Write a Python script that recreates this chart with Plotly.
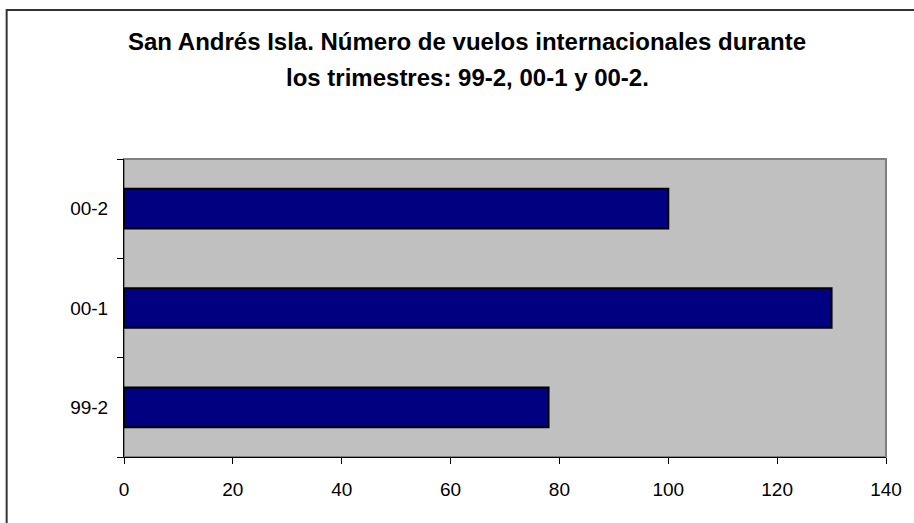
import plotly.graph_objects as go

trimestres = ["99-2", "00-1", "00-2"]
vuelos = [78, 130, 100]

titulo_1 = "San Andrés Isla. Número de vuelos internacionales durante"
titulo_2 = "los trimestres: 99-2, 00-1 y 00-2."

fig = go.Figure()
fig.add_trace(go.Bar(
    x=vuelos, y=trimestres, orientation="h",
    marker=dict(color="#000080", line=dict(color="black", width=2)),
    width=0.4,
))

# borde exterior del gráfico
fig.add_shape(type="rect", xref="paper", yref="paper",
              x0=-0.154, x1=1.3, y0=-0.6, y1=1.5,
              line=dict(color="#333333", width=2), layer="below")
# borde del área de trazado (gris, arriba y derecha)
fig.add_shape(type="rect", xref="paper", yref="paper",
              x0=0, x1=1, y0=0, y1=1,
              line=dict(color="#808080", width=2), layer="below")

for texto, ypix in [(titulo_1, 41), (titulo_2, 77)]:
    fig.add_annotation(text="<b>" + texto + "</b>", xref="paper", yref="paper",
                       x=(467 - 124) / 762, y=(457 - ypix) / 298,
                       xanchor="center", yanchor="middle", showarrow=False,
                       font=dict(size=24, family="Liberation Sans, Arial", color="black"))

fig.update_xaxes(range=[0, 140], dtick=20, tick0=0, showgrid=False, zeroline=False,
                 showline=True, linecolor="black", linewidth=1,
                 ticks="outside", ticklen=6, tickcolor="black", automargin=False,
                 tickfont=dict(size=19, color="black"), ticklabelstandoff=9)
fig.update_yaxes(type="category", categoryorder="array", categoryarray=trimestres,
                 showgrid=False, showline=True, linecolor="black", linewidth=1,
                 ticks="outside", ticklen=6, tickcolor="black", tickson="boundaries",
                 automargin=False, tickfont=dict(size=19, color="black"),
                 ticklabelstandoff=11)

fig.update_layout(
    width=914, height=523,
    margin=dict(l=124, r=28, t=159, b=66),
    plot_bgcolor="#C0C0C0", paper_bgcolor="white",
    font=dict(family="Liberation Sans, Arial", color="black"),
    showlegend=False,
)

fig.write_html("out.html", config={"displayModeBar": False},
               post_script="document.body.style.margin = '0';")
